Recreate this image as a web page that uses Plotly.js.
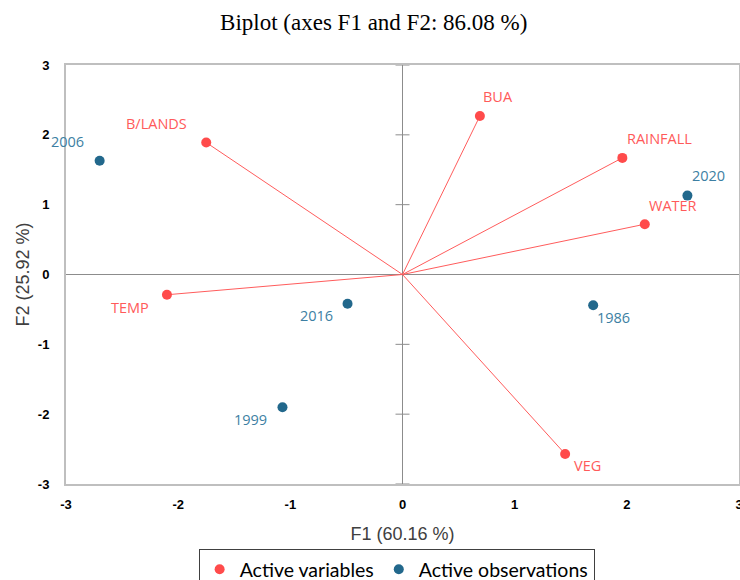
<!DOCTYPE html>
<html>
<head>
<meta charset="utf-8">
<script src="https://cdn.plot.ly/plotly-3.0.1.min.js"></script>
<style>html,body{margin:0;padding:0;background:#fff;}#chart{width:740px;height:580px;}</style>
</head>
<body>
<div id="chart"></div>
<script>
// Active variables (loadings)
const varNames = ["B/LANDS", "TEMP", "BUA", "RAINFALL", "WATER", "VEG"];
const varF1 = [-1.75, -2.10, 0.69, 1.96, 2.16, 1.45];
const varF2 = [1.89, -0.29, 2.27, 1.67, 0.72, -2.57];

// Active observations (scores)
const obsNames = ["2006", "2016", "1999", "1986", "2020"];
const obsF1 = [-2.70, -0.49, -1.07, 1.70, 2.54];
const obsF2 = [1.63, -0.42, -1.90, -0.44, 1.13];

const tickVals = [-3, -2, -1, 0, 1, 2, 3];
const tickText = ["-3", "-2", "-1", "0", "1", "2", "3"];

// label offsets in pixels (styling only)
const labelOffsets = {
  "B/LANDS": [-50, 19], "TEMP": [-37, -13], "BUA": [18, 19], "RAINFALL": [37, 19],
  "WATER": [28, 19], "VEG": [22, -12],
  "2006": [-32, 19], "2016": [-31, -12], "1999": [-32, -12], "1986": [20, -12], "2020": [21, 20]
};

const redM = "#FF4B4B", redL = "#FF5C5C", redT = "#FF5A5A";
const blueM = "#22688C", blueT = "#3D7FA3";

const lx = [], ly = [];
varF1.forEach((v, i) => { lx.push(0, v, null); ly.push(0, varF2[i], null); });

const yTicksNZ = tickVals.filter(v => v !== 0);

const traces = [
  { x: lx, y: ly, mode: "lines", line: { color: redL, width: 1 }, showlegend: false, hoverinfo: "skip" },
  { x: yTicksNZ.map(() => 0), y: yTicksNZ, mode: "markers", cliponaxis: false,
    marker: { symbol: "line-ew-open", size: 10, color: "#8C8C8C", line: { color: "#8C8C8C", width: 1 } }, showlegend: false, hoverinfo: "skip" },
  { x: varF1, y: varF2, text: varNames, mode: "markers", name: "Active variables",
    marker: { color: redM, size: 10 } },
  { x: obsF1, y: obsF2, text: obsNames, mode: "markers", name: "Active observations",
    marker: { color: blueM, size: 10 } }
];

const annotations = [];
varNames.forEach((n, i) => annotations.push({ x: varF1[i], y: varF2[i], text: n, showarrow: false,
  xshift: labelOffsets[n][0], yshift: labelOffsets[n][1], font: { family: "Open Sans, sans-serif", size: 14.5, color: redT } }));
obsNames.forEach((n, i) => annotations.push({ x: obsF1[i], y: obsF2[i], text: n, showarrow: false,
  xshift: labelOffsets[n][0], yshift: labelOffsets[n][1], font: { family: "Open Sans, sans-serif", size: 14.5, color: blueT } }));

const axisCommon = {
  range: [-3, 3], tickmode: "array", tickvals: tickVals, ticktext: tickText, ticks: "", showgrid: false,
  zeroline: true, zerolinecolor: "#8C8C8C", zerolinewidth: 1,
  showline: true, mirror: true, linecolor: "#BFBFBF", linewidth: 2,
  tickfont: { family: "Liberation Sans, Arial, sans-serif", size: 13, color: "#000", weight: "bold" },
  ticklabeloverflow: "allow", automargin: false,
  fixedrange: true
};

const layout = {
  width: 740, height: 580,
  margin: { l: 66, r: 1, t: 65, b: 96 },
  paper_bgcolor: "#fff", plot_bgcolor: "#fff",
  title: { text: "Biplot (axes F1 and F2: 86.08 %)", xref: "container", x: 0.505, y: 0.962, yanchor: "middle",
    font: { family: "Liberation Serif, Times New Roman, serif", size: 23, color: "#000" } },
  xaxis: Object.assign({}, axisCommon, {
    ticklabelstandoff: 7,
    title: { text: "F1 (60.16 %)", standoff: 17, font: { family: "Liberation Sans, Arial, sans-serif", size: 18, color: "#404040" } }
  }),
  yaxis: Object.assign({}, axisCommon, {
    ticklabelstandoff: 12,
    title: { text: "F2 (25.92 %)", standoff: 4, font: { family: "Liberation Sans, Arial, sans-serif", size: 18, color: "#404040" } }
  }),
  showlegend: true,
  legend: { orientation: "h", x: 0.536, xref: "container", xanchor: "center", y: 0.0534, yref: "container", yanchor: "top",
    bordercolor: "#404040", borderwidth: 1, bgcolor: "#fff",
    font: { family: "Lato, Open Sans, sans-serif", size: 19.5, color: "#000" }, itemwidth: 30 },
  annotations: annotations,
  hovermode: false
};

Plotly.newPlot("chart", traces, layout, { displayModeBar: false, staticPlot: true });
</script>
</body>
</html>
